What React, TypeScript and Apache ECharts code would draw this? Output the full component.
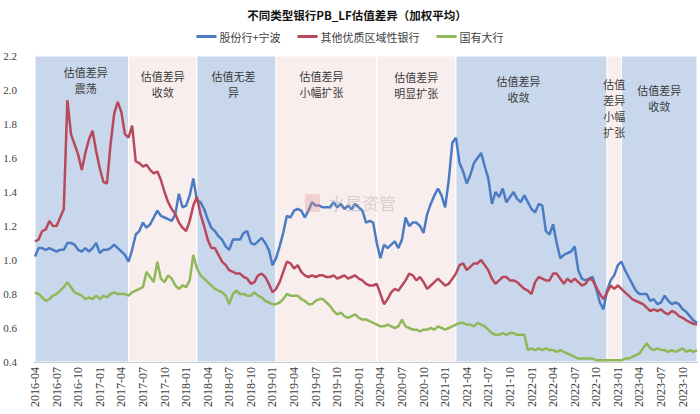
import React, { useEffect, useRef } from "react";
import * as echarts from "echarts";

const seriesNames = ["股份行+宁波", "其他优质区域性银行", "国有大行"];
const seriesColors = ["#4a7bc3", "#b8485b", "#8fb858"];

// semi-monthly observations, 2016-04-01 .. 2023-12-01
const categories: string[] = [];
for (let y = 2016; y <= 2023; y++) {
  for (let m = 1; m <= 12; m++) {
    if (y === 2016 && m < 4) continue;
    const mm = String(m).padStart(2, "0");
    categories.push(`${y}-${mm}-01`);
    if (!(y === 2023 && m === 12)) categories.push(`${y}-${mm}-16`);
  }
}

const jointStock = [
  1.02, 1.07, 1.07, 1.06, 1.07, 1.06, 1.05, 1.06, 1.06, 1.10,
  1.10, 1.09, 1.06, 1.05, 1.07, 1.05, 1.07, 1.10, 1.04, 1.06,
  1.06, 1.07, 1.09, 1.07, 1.05, 1.03, 0.99, 1.06, 1.15, 1.17,
  1.22, 1.19, 1.21, 1.25, 1.29, 1.26, 1.25, 1.24, 1.23, 1.27,
  1.39, 1.31, 1.32, 1.38, 1.48, 1.35, 1.34, 1.30, 1.24, 1.19,
  1.17, 1.14, 1.12, 1.08, 1.06, 1.12, 1.12, 1.12, 1.16, 1.17,
  1.10, 1.09, 1.11, 1.13, 1.10, 1.06, 0.97, 1.01, 1.08, 1.16,
  1.26, 1.25, 1.29, 1.30, 1.29, 1.25, 1.29, 1.34, 1.32, 1.32,
  1.31, 1.31, 1.31, 1.34, 1.31, 1.33, 1.30, 1.32, 1.30, 1.33,
  1.31, 1.29, 1.22, 1.23, 1.22, 1.10, 1.01, 1.09, 1.07, 1.09,
  1.11, 1.07, 1.12, 1.25, 1.20, 1.22, 1.22, 1.20, 1.16, 1.27,
  1.33, 1.38, 1.42, 1.38, 1.31, 1.47, 1.69, 1.72, 1.57, 1.52,
  1.45, 1.50, 1.57, 1.60, 1.63, 1.55, 1.48, 1.33, 1.40, 1.37,
  1.42, 1.34, 1.37, 1.40, 1.36, 1.34, 1.38, 1.34, 1.30, 1.28,
  1.33, 1.32, 1.17, 1.15, 1.21, 1.10, 1.01, 1.03, 1.04, 1.05,
  1.08, 0.94, 0.89, 0.88, 0.89, 0.90, 0.83, 0.75, 0.71, 0.82,
  0.88, 0.91, 0.97, 0.99, 0.94, 0.90, 0.86, 0.82, 0.80, 0.80,
  0.80, 0.76, 0.77, 0.74, 0.75, 0.79, 0.76, 0.74, 0.75, 0.74,
  0.71, 0.695, 0.67, 0.645, 0.63,
];

const regionalBanks = [
  1.11, 1.12, 1.17, 1.18, 1.23, 1.20, 1.20, 1.25, 1.30, 1.94,
  1.74, 1.68, 1.62, 1.53, 1.63, 1.71, 1.76, 1.64, 1.54, 1.46,
  1.45, 1.68, 1.86, 1.93, 1.87, 1.74, 1.72, 1.79, 1.58, 1.57,
  1.55, 1.56, 1.53, 1.51, 1.52, 1.47, 1.40, 1.34, 1.30, 1.27,
  1.22, 1.19, 1.17, 1.23, 1.32, 1.37, 1.27, 1.20, 1.12, 1.07,
  1.07, 1.03, 0.99, 0.97, 0.94, 0.93, 0.92, 0.92, 0.90, 0.89,
  0.86, 0.87, 0.91, 0.92, 0.90, 0.86, 0.81, 0.83, 0.87, 0.93,
  0.99, 0.98, 0.95, 0.97, 0.93, 0.91, 0.90, 0.91, 0.90, 0.91,
  0.91, 0.90, 0.90, 0.91, 0.89, 0.90, 0.91, 0.89, 0.90, 0.91,
  0.89, 0.88, 0.86, 0.85, 0.85, 0.86, 0.80, 0.74, 0.77, 0.81,
  0.83, 0.82, 0.85, 0.88, 0.92, 0.91, 0.88, 0.90, 0.87, 0.83,
  0.85, 0.87, 0.89, 0.87, 0.85, 0.86, 0.89, 0.92, 0.97, 0.98,
  0.94, 0.96, 0.98, 0.98, 1.00, 0.97, 0.94, 0.89, 0.86, 0.88,
  0.90, 0.90, 0.88, 0.88, 0.87, 0.85, 0.83, 0.82, 0.80, 0.87,
  0.90, 0.89, 0.88, 0.88, 0.92, 0.92, 0.89, 0.86, 0.89, 0.87,
  0.89, 0.87, 0.85, 0.86, 0.89, 0.88, 0.84, 0.80, 0.77, 0.81,
  0.85, 0.83, 0.85, 0.83, 0.81, 0.79, 0.77, 0.76, 0.75, 0.74,
  0.72, 0.70, 0.71, 0.70, 0.71, 0.69, 0.68, 0.70, 0.69, 0.67,
  0.66, 0.645, 0.635, 0.625, 0.62,
];

const stateOwned = [
  0.81, 0.80, 0.78, 0.76, 0.77, 0.79, 0.80, 0.82, 0.84, 0.87,
  0.84, 0.81, 0.80, 0.79, 0.77, 0.78, 0.77, 0.79, 0.77, 0.79,
  0.78, 0.80, 0.81, 0.80, 0.80, 0.80, 0.79, 0.81, 0.82, 0.83,
  0.84, 0.93, 0.90, 0.87, 0.99, 0.89, 0.87, 0.91, 0.89, 0.85,
  0.83, 0.85, 0.84, 0.88, 1.03, 0.95, 0.91, 0.89, 0.87, 0.85,
  0.83, 0.82, 0.81, 0.79, 0.74, 0.80, 0.82, 0.80, 0.80, 0.79,
  0.79, 0.81, 0.79, 0.78, 0.76, 0.75, 0.74, 0.74, 0.75, 0.77,
  0.80, 0.79, 0.79, 0.79, 0.77, 0.76, 0.74, 0.74, 0.76, 0.77,
  0.77, 0.75, 0.73, 0.70, 0.68, 0.69, 0.67, 0.66, 0.67, 0.68,
  0.66, 0.65, 0.65, 0.64, 0.63, 0.62, 0.61, 0.61, 0.62, 0.61,
  0.60, 0.61, 0.65, 0.61, 0.60, 0.59, 0.59, 0.58, 0.59, 0.59,
  0.60, 0.59, 0.61, 0.60, 0.59, 0.60, 0.61, 0.62, 0.63, 0.63,
  0.62, 0.62, 0.61, 0.63, 0.62, 0.61, 0.59, 0.57, 0.56, 0.56,
  0.57, 0.56, 0.57, 0.57, 0.56, 0.56, 0.56, 0.47, 0.48, 0.47,
  0.48, 0.47, 0.48, 0.47, 0.47, 0.46, 0.47, 0.46, 0.45, 0.44,
  0.43, 0.42, 0.42, 0.42, 0.42, 0.42, 0.41, 0.41, 0.41, 0.41,
  0.41, 0.41, 0.41, 0.41, 0.42, 0.42, 0.43, 0.44, 0.45, 0.48,
  0.51, 0.48, 0.47, 0.48, 0.47, 0.47, 0.46, 0.47, 0.46, 0.47,
  0.48, 0.46, 0.47, 0.46, 0.47,
];

// shaded phases: start, end, label, tone
const phaseStarts = ["2016-04-01", "2017-05-01", "2018-02-16", "2019-01-16", "2020-03-16", "2021-02-16", "2022-11-16", "2023-01-16"];
const phaseEnds = ["2017-05-01", "2018-02-16", "2019-01-16", "2020-03-16", "2021-02-16", "2022-11-16", "2023-01-16", "2023-12-01"];
const phaseLabels = [
  "估值差异\n震荡",
  "估值差异\n收敛",
  "估值无差\n异",
  "估值差异\n小幅扩张",
  "估值差异\n明显扩张",
  "估值差异\n收敛",
  "估值\n差异\n小幅\n扩张",
  "估值差异\n收敛",
];
const phaseTones = ["blue", "pink", "blue", "pink", "pink", "blue", "pink", "blue"];
const phaseLabelTop = [8, 12, 12, 12, 13, 17, 20, 26];
const phaseLabelDx = [4, 0, -3, -5, 0, -13, 0, 0];

const toneColor: Record<string, string> = { blue: "#c8d7eb", pink: "#f9eeee" };

export default function App() {
  const ref = useRef<HTMLDivElement>(null);
  useEffect(() => {
    if (!ref.current) return;
    const chart = echarts.init(ref.current, undefined, { renderer: "svg" });
    const cjk = "'Noto Sans CJK SC', sans-serif";
    const serif = "'Liberation Serif', 'DejaVu Serif', serif";
    const markData = phaseStarts.map((s, i) => [
      {
        xAxis: s,
        name: phaseLabels[i],
        itemStyle: { color: toneColor[phaseTones[i]], borderColor: "#ffffff", borderWidth: 1 },
        label: {
          show: true,
          position: ["50%", phaseLabelTop[i]],
          offset: [phaseLabelDx[i], 0],
          align: "center",
          verticalAlign: "top",
          color: "#3a3a3a",
          fontFamily: cjk,
          fontSize: 11,
          lineHeight: 16,
        },
      },
      { xAxis: phaseEnds[i] },
    ]);
    const values = [jointStock, regionalBanks, stateOwned];
    chart.setOption({
      animation: false,
      backgroundColor: "#ffffff",
      title: {
        text: "不同类型银行PB_LF估值差异（加权平均）",
        left: 352,
        top: 4,
        textAlign: "center",
        textStyle: { fontFamily: cjk, fontSize: 11.5, fontWeight: "bold", color: "#111" },
      },
      legend: {
        data: seriesNames,
        top: 26,
        left: "center",
        icon: "rect",
        itemWidth: 20,
        itemHeight: 3,
        itemGap: 17,
        textStyle: { fontFamily: cjk, fontSize: 11, color: "#404040", padding: [0, 0, 0, -2] },
      },
      grid: { left: 35, right: 3, top: 56, bottom: 52 },
      xAxis: {
        type: "category",
        data: categories,
        boundaryGap: false,
        axisLine: { lineStyle: { color: "#6b7a8f", width: 1.5 } },
        axisTick: { show: false },
        axisLabel: {
          rotate: 90,
          margin: 5,
          color: "#404040",
          fontFamily: serif,
          fontSize: 12,
          interval: (_i: number, v: string) =>
            v.endsWith("-01") && ["01", "04", "07", "10"].includes(v.slice(5, 7)),
          formatter: (v: string) => v.slice(0, 7),
        },
        splitLine: { show: false },
      },
      yAxis: {
        type: "value",
        min: 0.4,
        max: 2.2,
        interval: 0.2,
        axisLine: { show: true, lineStyle: { color: "#888888" } },
        axisTick: { show: false },
        splitLine: { show: false },
        axisLabel: {
          margin: 18,
          color: "#404040",
          fontFamily: serif,
          fontSize: 11,
          formatter: (v: number) => v.toFixed(1),
        },
      },
      graphic: [
        {
          type: "rect",
          shape: { x: 305, y: 194, width: 15, height: 18, r: 2 },
          style: { fill: "rgba(232,150,150,0.35)" },
          silent: true,
          z: 50,
        },
        {
          type: "text",
          x: 328,
          y: 194,
          style: { text: "水星资管", fontSize: 17, fontFamily: cjk, fill: "rgba(170,170,170,0.45)" },
          silent: true,
          z: 50,
        },
      ],
      series: values.map((d, i) => ({
        name: seriesNames[i],
        type: "line",
        data: d,
        symbol: "none",
        z: 3,
        lineStyle: { color: seriesColors[i], width: 2.5 },
        itemStyle: { color: seriesColors[i] },
        ...(i === 0
          ? { markArea: { silent: true, z: 1, data: markData } }
          : {}),
      })),
    });
    return () => chart.dispose();
  }, []);
  return <div ref={ref} style={{ position: "fixed", left: 0, top: 0, width: 700, height: 414 }} />;
}
